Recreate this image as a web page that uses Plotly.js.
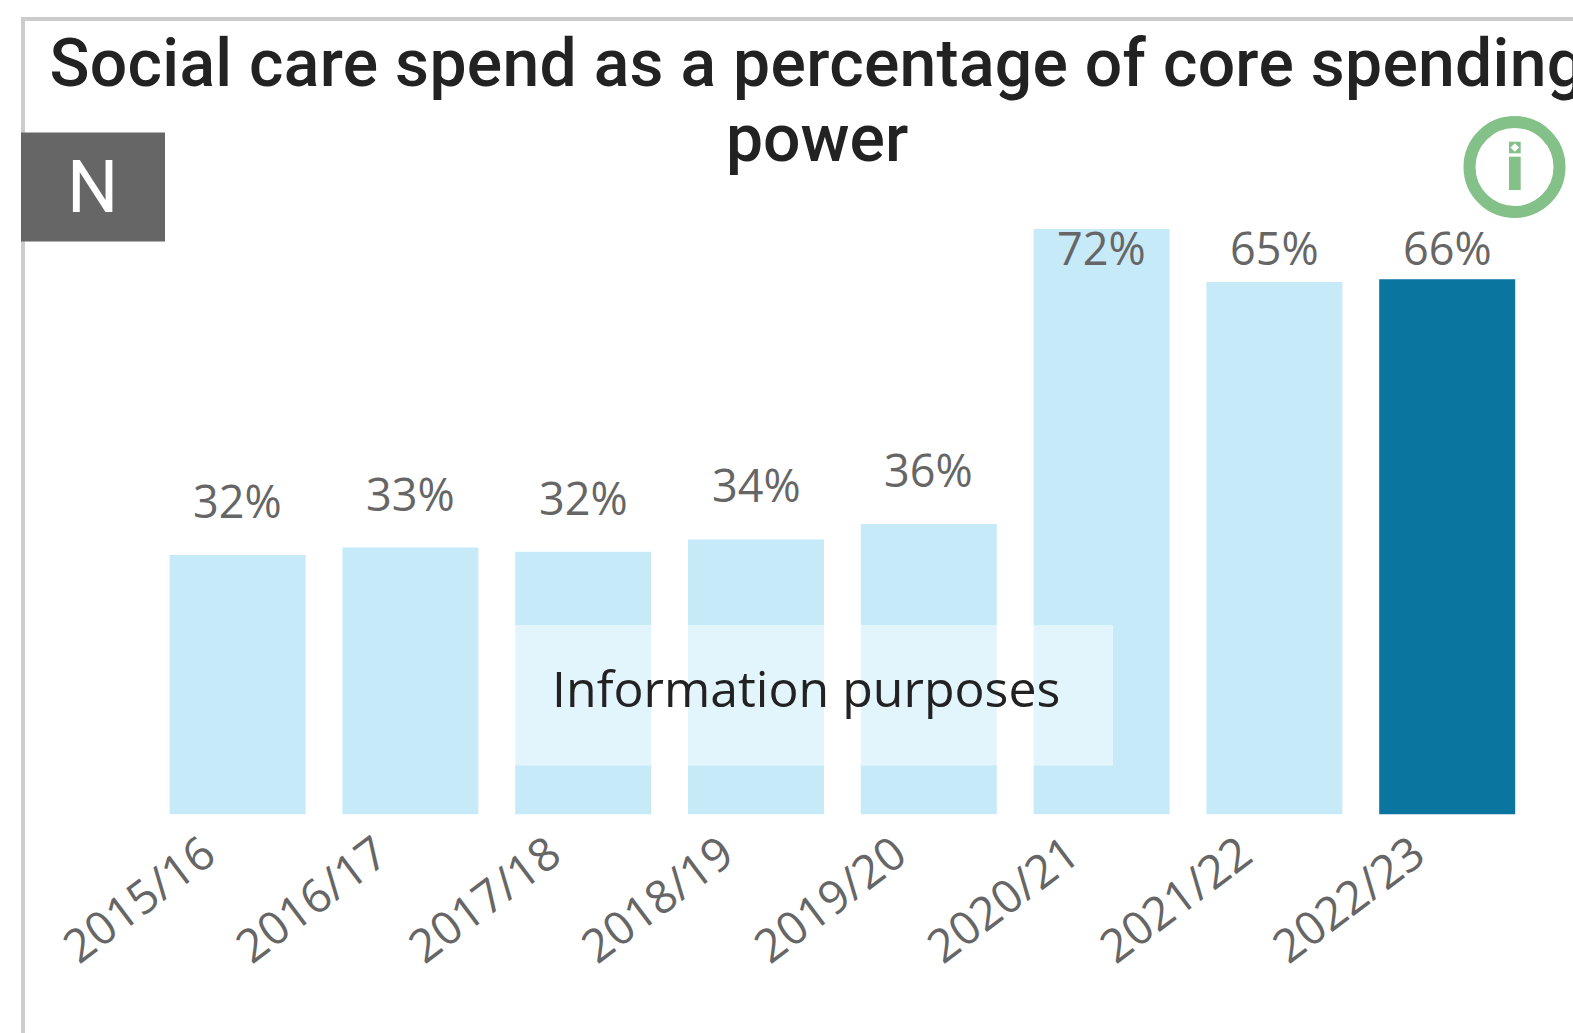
<!DOCTYPE html>
<html><head><meta charset="utf-8">
<script src="https://cdn.plot.ly/plotly-3.0.1.min.js"></script>
<style>html,body{margin:0;padding:0;background:#fff;overflow:hidden}
.gtitle{letter-spacing:0.3px}</style></head>
<body><div id="chart" style="width:1573px;height:1033px"></div>
<script>
const categories = ['2015/16','2016/17','2017/18','2018/19','2019/20','2020/21','2021/22','2022/23'];
const values = [31.9,32.8,32.3,33.8,35.7,72,65.45,65.8];
const barColors = ['#C7EAF9','#C7EAF9','#C7EAF9','#C7EAF9','#C7EAF9','#C7EAF9','#C7EAF9','#0A76A0'];
const titleLine1 = 'Social care spend as a percentage of core spending';
const titleLine2 = 'power';
const noteText = 'Information purposes';

const W = 1573, H = 1033;
const px = x => x / W, py = y => 1 - y / H;
const rect = (x0, y0, x1, y1, fill) => ({type:'rect', xref:'paper', yref:'paper',
  x0:px(x0), x1:px(x1), y0:py(y0), y1:py(y1), fillcolor:fill, line:{width:0}, layer:'above'});

const shapes = [
  rect(21,17,1573,21,'#CCCCCC'),
  rect(21,17,25,1033,'#CCCCCC'),
  rect(21,132.5,165,241.5,'#666666'),
  rect(515,625,1113,765.5,'rgba(255,255,255,0.5)'),
  {type:'circle', xref:'paper', yref:'paper', x0:px(1469.5), x1:px(1559.5), y0:py(212), y1:py(122),
   fillcolor:'rgba(0,0,0,0)', line:{color:'#84C188', width:12}, layer:'above'},
  rect(1509,156.7,1520.7,190,'#84C188'),
  rect(1509,141.7,1520.7,153.3,'#84C188'),
  {type:'path', xref:'paper', yref:'paper', layer:'above', fillcolor:'#FFFFFF', line:{width:0},
   path:`M ${px(1510.5)} ${py(147.5)} L ${px(1514.8)} ${py(143.2)} L ${px(1519.2)} ${py(147.5)} L ${px(1514.8)} ${py(151.8)} Z`}
];

const labelFont = {family:'Open Sans, sans-serif', size:45, color:'#666666'};
const annotations = values.map((v,i) => ({
  x:i, y:Math.min(v+6.7,69.7), xref:'x', yref:'y', text:Math.round(v)+'%',
  showarrow:false, xanchor:'center', yanchor:'middle', font:labelFont
}));
annotations.push({xref:'paper', yref:'paper', x:px(806), y:py(688), text:noteText, showarrow:false,
  xanchor:'center', yanchor:'middle', font:{family:'Open Sans, sans-serif', size:50, color:'#222222'}});
annotations.push({xref:'paper', yref:'paper', x:px(92), y:py(187), text:'N', showarrow:false,
  xanchor:'center', yanchor:'middle', font:{family:'Roboto, sans-serif', size:72, color:'#FFFFFF'}});
annotations.push({xref:'paper', yref:'paper', x:px(817), y:py(139), text:titleLine2, showarrow:false,
  xanchor:'center', yanchor:'middle', font:{family:'Roboto, sans-serif', size:66, weight:500, color:'#222222'}});

Plotly.newPlot('chart', [{
  type:'bar', x:categories, y:values, marker:{color:barColors, line:{width:0}}, hoverinfo:'x+y', cliponaxis:true
}], {
  width:W, height:H, margin:{l:0,r:0,t:0,b:0,pad:0},
  paper_bgcolor:'#FFFFFF', plot_bgcolor:'rgba(0,0,0,0)',
  bargap:0.213, showlegend:false,
  title:{text:titleLine1, x:817/W, xref:'container', xanchor:'center', y:1-63/H, yref:'container', yanchor:'middle',
    font:{family:'Roboto, sans-serif', size:66, weight:500, color:'#222222'}},
  xaxis:{domain:[px(151.2),px(1533.6)], type:'category', range:[-0.5,7.5], tickangle:-37, showgrid:false, zeroline:false,
    showline:false, ticks:'', automargin:false, ticklabelstandoff:3, ticklabelshift:-33,
    tickfont:{family:'Open Sans, sans-serif', size:46, color:'#666666'}},
  yaxis:{domain:[py(814.4),py(228.7)], range:[0,72], visible:false, automargin:false},
  shapes, annotations
}, {displayModeBar:false, responsive:false});
</script></body></html>
